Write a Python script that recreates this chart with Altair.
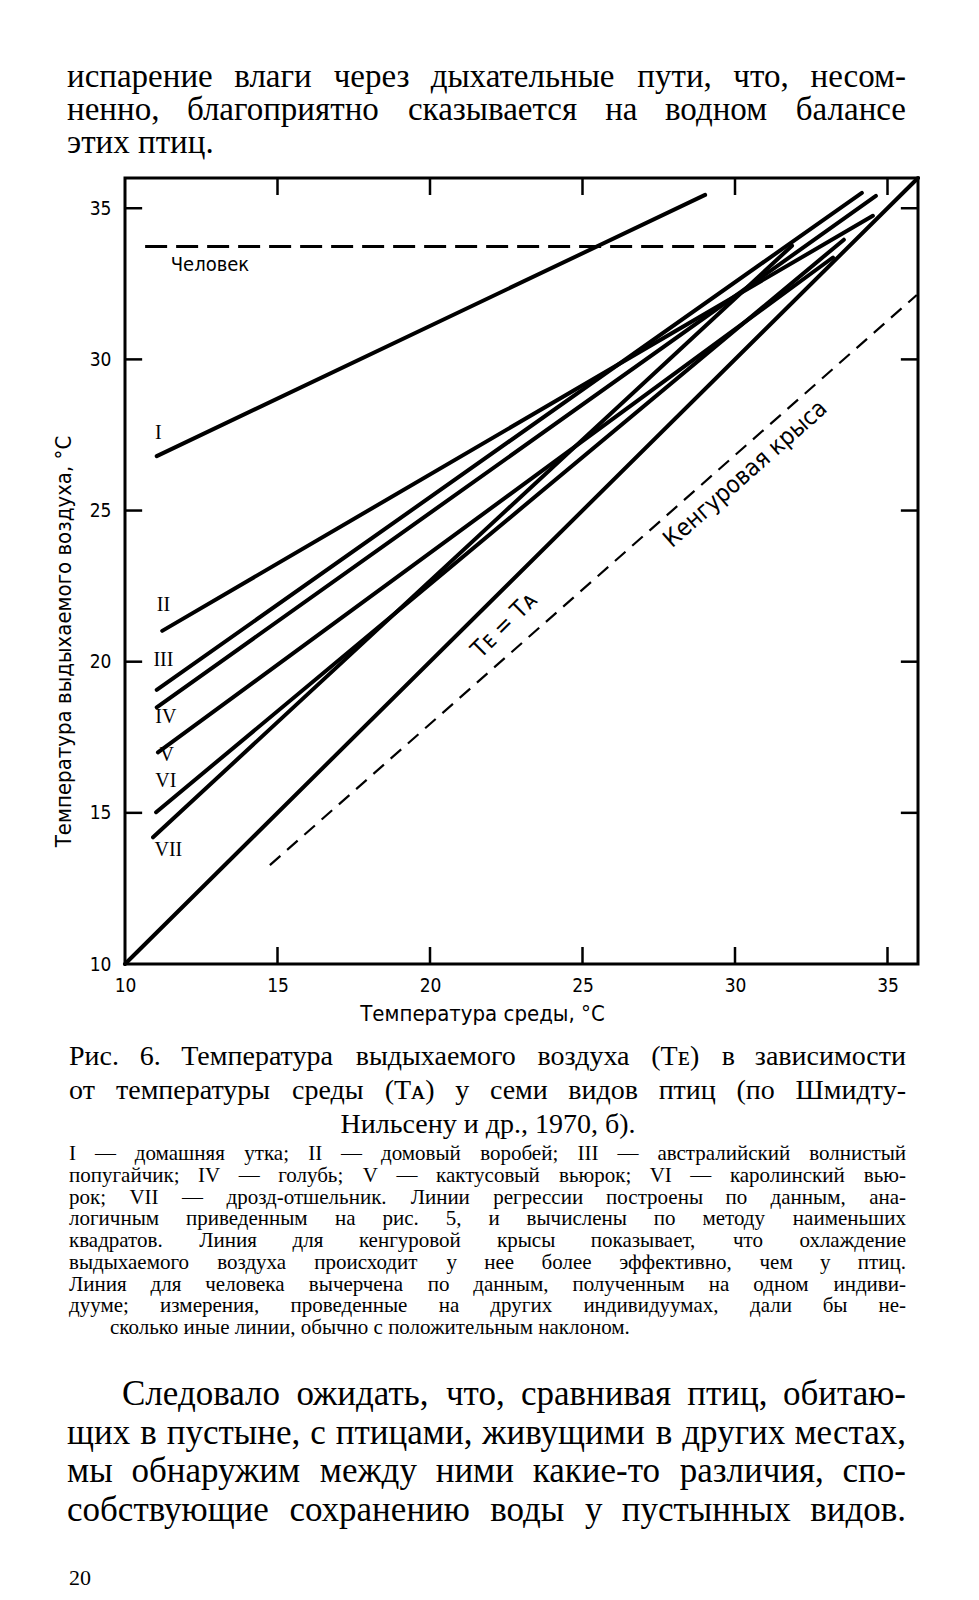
import altair as alt
import pandas as pd

# ---------------- chart data ----------------
species = ["I", "II", "III", "IV", "V", "VI", "VII"]
ta_start = [11.04, 11.22, 11.04, 11.04, 11.08, 11.02, 10.92]
te_start = [26.80, 21.02, 19.07, 18.49, 17.00, 15.02, 14.19]
ta_end = [29.02, 34.52, 34.16, 34.62, 33.21, 33.57, 31.87]
te_end = [35.44, 34.75, 35.51, 35.41, 33.37, 33.96, 33.76]
label_ta = [11.09, 11.26, 11.26, 11.34, 11.37, 11.34, 11.42]
label_te = [27.55, 21.88, 20.06, 18.18, 16.90, 16.06, 13.77]

human_ta = [10.66, 31.25]
human_te = [33.73, 33.73]
rat_ta = [14.75, 35.96]
rat_te = [13.27, 32.13]
equal_ta = [10, 36]
equal_te = [10, 36]

tick_values = [15, 20, 25, 30, 35]
label_values = [10, 15, 20, 25, 30, 35]

human_label = "Человек"
rat_label = "Кенгуровая крыса"
equal_label = "Tᴇ = Tᴀ"
x_title = "Температура среды, °С"
y_title = "Температура выдыхаемого воздуха, °С"

# ---------------- page text ----------------
top_lines = [
    "испарение влаги через дыхательные пути, что, несом-",
    "ненно, благоприятно сказывается на водном балансе",
    "этих птиц.",
]
caption_lines = [
    "Рис. 6. Температура выдыхаемого воздуха (Tᴇ) в зависимости",
    "от температуры среды (Tᴀ) у семи видов птиц (по Шмидту-",
    "Нильсену и др., 1970, б).",
]
legend_lines = [
    "I — домашняя утка; II — домовый воробей; III — австралийский волнистый",
    "попугайчик; IV — голубь; V — кактусовый вьюрок; VI — каролинский вью-",
    "рок; VII — дрозд-отшельник. Линии регрессии построены по данным, ана-",
    "логичным приведенным на рис. 5, и вычислены по методу наименьших",
    "квадратов. Линия для кенгуровой крысы показывает, что охлаждение",
    "выдыхаемого воздуха происходит у нее более эффективно, чем у птиц.",
    "Линия для человека вычерчена по данным, полученным на одном индиви-",
    "дууме; измерения, проведенные на других индивидуумах, дали бы не-",
    "сколько иные линии, обычно с положительным наклоном.",
]
bottom_lines = [
    "Следовало ожидать, что, сравнивая птиц, обитаю-",
    "щих в пустыне, с птицами, живущими в других местах,",
    "мы обнаружим между ними какие-то различия, спо-",
    "собствующие сохранению воды у пустынных видов.",
]
page_number = "20"

# ---------------- layout ----------------
PLOT_W, PLOT_H = 793, 786
PAD_L, PAD_T = 117, 170
LEFT_PX, BOTTOM_PX = 125, 964
DOM = [10, 36]
SX = PLOT_W / (DOM[1] - DOM[0])
SY = PLOT_H / (DOM[1] - DOM[0])

SANS = "DejaVu Sans Condensed, Liberation Sans Narrow, Roboto Condensed, DejaVu Sans, sans-serif"
SERIF = "Liberation Serif, DejaVu Serif, serif"


def to_ta(px):
    return DOM[0] + (px - LEFT_PX) / SX


def to_te(py):
    return DOM[0] + (BOTTOM_PX - py) / SY


# approximate Times-like advance widths (em)
W = dict(zip("абвгдежзийклмнопрстуфхцчшщъыьэюя",
             [.444, .509, .472, .41, .509, .444, .691, .395, .535, .535, .485, .499, .633, .535, .5, .535,
              .5, .444, .437, .5, .648, .5, .535, .503, .77, .77, .517, .672, .456, .429, .747, .46]))
W.update(dict(zip("АБВГДЕЖЗИЙКЛМНОПРСТУФХЦЧШЩЪЫЬЭЮЯ",
                  [.722, .574, .667, .578, .682, .611, .896, .501, .722, .722, .667, .678, .889, .722, .722, .722,
                   .556, .667, .611, .715, .79, .722, .722, .665, .996, .996, .714, .885, .573, .668, 1.018, .667])))
W.update({",": .25, ".": .25, ";": .278, ":": .278, "-": .333, "—": 1.0, "(": .333, ")": .333,
          "I": .333, "V": .722, "T": .611, "ᴇ": .5, "ᴀ": .5})


def est(word, size):
    return sum(W.get(c, .5) for c in word) * size


rows = []


def layout(lines, grp, size, left, right, y0, dy, modes, indent=None, center=None):
    for i, (line, mode) in enumerate(zip(lines, modes)):
        y = y0 + i * dy
        x0 = left if not (indent and i == 0) else indent
        if mode == "justify":
            words = line.split(" ")
            widths = [est(w, size) for w in words]
            gap = (right - x0 - sum(widths)) / (len(words) - 1)
            x = x0
            for k, w in enumerate(words):
                if k == len(words) - 1:
                    rows.append(dict(text=w, ta=to_ta(right), te=to_te(y), grp=grp, al="right"))
                else:
                    rows.append(dict(text=w, ta=to_ta(x), te=to_te(y), grp=grp, al="left"))
                x += widths[k] + gap
        elif mode == "center":
            rows.append(dict(text=line, ta=to_ta(center), te=to_te(y), grp=grp, al="center"))
        else:
            rows.append(dict(text=line, ta=to_ta(x0), te=to_te(y), grp=grp, al="left"))


SIZES = {"top": 33, "cap": 28, "leg": 21, "bot": 35, "num": 22}
layout(top_lines, "top", SIZES["top"], 67, 906, 77, 33, ["justify", "justify", "left"])
layout(caption_lines, "cap", SIZES["cap"], 69, 906, 1057, 34, ["justify", "justify", "center"], center=488)
layout(legend_lines, "leg", SIZES["leg"], 69, 906, 1154, 21.75, ["justify"] * 8 + ["left"])
rows[-1]["ta"] = to_ta(110)
layout(bottom_lines, "bot", SIZES["bot"], 67, 906, 1394, 38.5, ["justify"] * 4, indent=122)
layout([page_number], "num", SIZES["num"], 69, 906, 1578, 0, ["left"])

text_df = pd.DataFrame(rows)

# ---------------- encodings ----------------
X = alt.X("ta:Q", scale=alt.Scale(domain=DOM, nice=False, zero=False),
          axis=alt.Axis(values=label_values, ticks=False, domain=False, grid=False,
                        labelFont=SANS, labelFontSize=19, labelColor="black", labelPadding=12,
                        labelFlush=False, labelOverlap=False,
                        title=x_title, titleFont=SANS, titleFontSize=22, titleFontWeight="normal",
                        titleColor="black", titleX=357, titleY=49, titleAlign="center",
                        titleBaseline="middle", titleAnchor="start"))
Y = alt.Y("te:Q", scale=alt.Scale(domain=DOM, nice=False, zero=False),
          axis=alt.Axis(values=label_values, ticks=False, domain=False, grid=False,
                        labelFont=SANS, labelFontSize=19, labelColor="black", labelPadding=14,
                        labelFlush=False, labelOverlap=False,
                        title=y_title, titleFont=SANS, titleFontSize=22, titleFontWeight="normal",
                        titleColor="black", titleX=-62, titleY=463, titleAngle=270, titleAlign="center",
                        titleBaseline="middle", titleAnchor="start"))

# species regression lines
seg_rows = []
for s, a0, e0, a1, e1 in zip(species, ta_start, te_start, ta_end, te_end):
    seg_rows.append(dict(sp=s, ta=a0, te=e0, o=0))
    seg_rows.append(dict(sp=s, ta=a1, te=e1, o=1))
seg_df = pd.DataFrame(seg_rows)

birds = alt.Chart(seg_df).mark_line(color="black", strokeWidth=4, strokeCap="round").encode(
    x=X, y=Y, detail="sp:N", order="o:Q")

equal = alt.Chart(pd.DataFrame({"ta": equal_ta, "te": equal_te})).mark_line(
    color="black", strokeWidth=4, strokeCap="round").encode(x=X, y=Y)

human = alt.Chart(pd.DataFrame({"ta": human_ta, "te": human_te})).mark_line(
    color="black", strokeWidth=3, strokeDash=[22, 9]).encode(x=X, y=Y)

rat = alt.Chart(pd.DataFrame({"ta": rat_ta, "te": rat_te})).mark_line(
    color="black", strokeWidth=2.2, strokeDash=[14, 9]).encode(x=X, y=Y)

# inward ticks on all four sides
TL = 17 / SY
tick_rows = []
for v in tick_values:
    tick_rows.append(dict(ta=v, ta2=v, te=DOM[0], te2=DOM[0] + TL))
    tick_rows.append(dict(ta=v, ta2=v, te=DOM[1], te2=DOM[1] - TL))
    tick_rows.append(dict(ta=DOM[0], ta2=DOM[0] + TL, te=v, te2=v))
    tick_rows.append(dict(ta=DOM[1], ta2=DOM[1] - TL, te=v, te2=v))
ticks = alt.Chart(pd.DataFrame(tick_rows)).mark_rule(color="black", strokeWidth=2.5).encode(
    x=X, y=Y, x2="ta2:Q", y2="te2:Q")

# labels
sp_labels = alt.Chart(pd.DataFrame({"ta": label_ta, "te": label_te, "t": species})).mark_text(
    font=SERIF, fontSize=20, color="black", align="center", baseline="middle").encode(
    x=X, y=Y, text="t:N")

human_txt = alt.Chart(pd.DataFrame({"ta": [11.50], "te": [33.12], "t": [human_label]})).mark_text(
    font=SANS, fontSize=20, color="black", align="left", baseline="middle").encode(x=X, y=Y, text="t:N")

rat_txt = alt.Chart(pd.DataFrame({"ta": [30.35], "te": [26.2], "t": [rat_label]})).mark_text(
    font=SANS, fontSize=24, color="black", align="center", baseline="middle", angle=318.6).encode(
    x=X, y=Y, text="t:N")

equal_txt = alt.Chart(pd.DataFrame({"ta": [22.45], "te": [21.2], "t": [equal_label]})).mark_text(
    font=SANS, fontSize=24, color="black", align="center", baseline="middle", angle=315).encode(
    x=X, y=Y, text="t:N")

layers = [birds, equal, human, rat, ticks, sp_labels, human_txt, rat_txt, equal_txt]

for (grp, al), sub in text_df.groupby(["grp", "al"]):
    layers.append(alt.Chart(sub).mark_text(
        font=SERIF, fontSize=SIZES[grp], color="black", align=al, baseline="middle").encode(
        x=X, y=Y, text="text:N"))

chart = alt.layer(*layers).properties(
    width=PLOT_W, height=PLOT_H,
    autosize=alt.AutoSizeParams(type="none"),
    padding={"left": PAD_L, "top": PAD_T, "right": 45, "bottom": 625},
    background="white",
).configure_view(stroke="black", strokeWidth=3)

chart.save("out.html", embed_options={"renderer": "svg", "actions": False})
